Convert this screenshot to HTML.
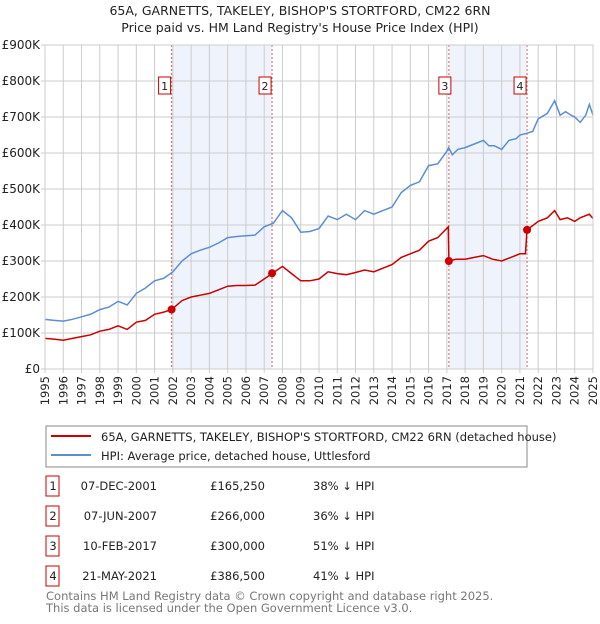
<!DOCTYPE html>
<html><head><meta charset="utf-8"><style>
body{margin:0;background:#fff;font-family:"DejaVu Sans","Liberation Sans",sans-serif;}
svg text{font-family:"DejaVu Sans","Liberation Sans",sans-serif;}
</style></head><body>
<svg id="c" width="600" height="620" xmlns="http://www.w3.org/2000/svg">
<text x="300" y="15" text-anchor="middle" font-size="12.5" fill="#222">65A, GARNETTS, TAKELEY, BISHOP'S STORTFORD, CM22 6RN</text>
<text x="300" y="32" text-anchor="middle" font-size="12.5" fill="#222">Price paid vs. HM Land Registry's House Price Index (HPI)</text>
<g id="plot"></g>
<g>
<rect x="46" y="426" width="481" height="41" fill="#fff" stroke="#888"/>
<line x1="51" y1="436" x2="91" y2="436" stroke="#cc0000" stroke-width="2"/>
<text x="101" y="441" font-size="11.5" fill="#222">65A, GARNETTS, TAKELEY, BISHOP'S STORTFORD, CM22 6RN (detached house)</text>
<line x1="51" y1="455" x2="91" y2="455" stroke="#5b8fd4" stroke-width="2"/>
<text x="101" y="460" font-size="11.5" fill="#222">HPI: Average price, detached house, Uttlesford</text>
</g>
<g id="table" font-size="11.5" fill="#222"></g>
<text x="46" y="600" font-size="11.5" fill="#777">Contains HM Land Registry data © Crown copyright and database right 2025.</text>
<text x="46" y="612" font-size="11.5" fill="#777">This data is licensed under the Open Government Licence v3.0.</text>
</svg>
<script>
const yTicks=[0,100000,200000,300000,400000,500000,600000,700000,800000,900000];
const yTickLabels=["£0","£100K","£200K","£300K","£400K","£500K","£600K","£700K","£800K","£900K"];
const years=[1995,1996,1997,1998,1999,2000,2001,2002,2003,2004,2005,2006,2007,2008,2009,2010,2011,2012,2013,2014,2015,2016,2017,2018,2019,2020,2021,2022,2023,2024,2025];
const hpiT=[1995,1995.5,1996,1996.5,1997,1997.5,1998,1998.5,1999,1999.5,2000,2000.5,2001,2001.5,2002,2002.5,2003,2003.5,2004,2004.5,2005,2005.5,2006,2006.5,2007,2007.5,2008,2008.5,2009,2009.5,2010,2010.5,2011,2011.5,2012,2012.5,2013,2013.5,2014,2014.5,2015,2015.5,2016,2016.5,2017,2017.1,2017.3,2017.6,2018,2018.5,2019,2019.3,2019.6,2020,2020.4,2020.8,2021,2021.4,2021.7,2022,2022.5,2022.9,2023.2,2023.5,2023.8,2024,2024.3,2024.6,2024.8,2025];
const hpiV=[138,135,133,138,145,152,165,172,188,178,210,225,245,252,270,300,320,330,338,350,365,368,370,372,395,405,440,420,380,382,390,425,415,430,415,440,430,440,450,490,510,520,565,570,605,615,595,610,615,625,635,620,620,610,635,640,650,655,660,695,710,745,705,715,705,700,685,705,735,705];
const redT=[1995,1995.5,1996,1996.5,1997,1997.5,1998,1998.5,1999,1999.5,2000,2000.5,2001,2001.5,2001.93,2002.5,2003,2003.5,2004,2004.5,2005,2005.5,2006,2006.5,2007,2007.45,2008,2008.5,2009,2009.5,2010,2010.5,2011,2011.5,2012,2012.5,2013,2013.5,2014,2014.5,2015,2015.5,2016,2016.5,2017.08,2017.11,2017.5,2018,2018.5,2019,2019.5,2020,2020.5,2021,2021.3,2021.39,2022,2022.5,2022.9,2023.2,2023.6,2024,2024.3,2024.8,2025];
const redV=[85,83,80,85,90,95,105,110,120,110,130,135,152,158,165,190,200,205,210,220,230,232,232,233,250,266,285,265,245,245,250,270,265,262,268,275,270,280,290,310,320,330,355,365,395,300,305,305,310,315,305,300,310,320,320,386.5,410,420,440,415,420,410,420,430,418];
const saleT=[2001.93,2007.43,2017.11,2021.39];
const saleV=[165250,266000,300000,386500];
const saleLabels=["1","2","3","4"];
const saleDates=["07-DEC-2001","07-JUN-2007","10-FEB-2017","21-MAY-2021"];
const salePrices=["£165,250","£266,000","£300,000","£386,500"];
const salePct=["38% ↓ HPI","36% ↓ HPI","51% ↓ HPI","41% ↓ HPI"];
const NS="http://www.w3.org/2000/svg";
const X0=45,X1=593,Y0=369,Y1=45;
const sx=t=>X0+(t-1995)/30*(X1-X0);
const sy=v=>Y0-v/900000*(Y0-Y1);
const plot=document.getElementById('plot');
function mk(tag,attrs,parent){const e=document.createElementNS(NS,tag);for(const k in attrs)e.setAttribute(k,attrs[k]);(parent||plot).appendChild(e);return e;}
// shading
for(let i=0;i<saleT.length;i+=2){
 const r=mk('rect',{x:sx(saleT[i]),y:Y1,width:sx(saleT[i+1])-sx(saleT[i]),height:Y0-Y1,fill:'#eef3fc'});
 
 
}
years.forEach(y=>{
 const l=mk('line',{x1:sx(y),x2:sx(y),y1:Y1,y2:Y0+4,stroke:'#ccc','stroke-width':1});
 
 
 const t=mk('text',{x:0,y:0,'font-size':11.5,fill:'#222','text-anchor':'end',transform:`translate(${sx(y)+4},376) rotate(-90)`});
 t.textContent=y;
 
 
});
yTicks.forEach((v,i)=>{
 const l=mk('line',{x1:X0-4,x2:X1,y1:sy(v),y2:sy(v),stroke:'#ccc','stroke-width':1});
 
 
 const t=mk('text',{x:X0-5,y:sy(v)+4,'font-size':12,fill:'#222','text-anchor':'end'});
 t.textContent=yTickLabels[i];
 
 
});
saleT.forEach((t,i)=>{
 const l=mk('line',{x1:sx(t),x2:sx(t),y1:Y1,y2:Y0,stroke:'#e06060','stroke-dasharray':'2,2','stroke-width':1});
 
 
 const bx=(i==2)?sx(t)-10:sx(t)-13;
 const r=mk('rect',{x:bx,y:77,width:12,height:17,fill:'#fff',stroke:'#cc0000'});
 
 
 const tx=mk('text',{x:bx+6,y:90,'font-size':11,fill:'#222','text-anchor':'middle'});
 tx.textContent=saleLabels[i];
 
 
});
const hp=mk('polyline',{points:hpiT.map((t,i)=>sx(t)+','+sy(hpiV[i]*1000)).join(' '),fill:'none',stroke:'#5b8fd4','stroke-width':1.5});


const rp=mk('polyline',{points:redT.map((t,i)=>sx(t)+','+sy(redV[i]*1000)).join(' '),fill:'none',stroke:'#cc0000','stroke-width':1.5});


saleT.forEach((t,i)=>{
 const c=mk('circle',{cx:sx(t),cy:sy(saleV[i]),r:4,fill:'#cc0000'});
 
 
});
const axis=mk('rect',{x:X0,y:Y1,width:X1-X0,height:Y0-Y1,fill:'none',stroke:'#ccc'});


const tb=document.getElementById('table');
saleT.forEach((t,i)=>{
 const y=476+i*30;
 const r=mk('rect',{x:46,y:y,width:13,height:20,fill:'#fff',stroke:'#cc0000'},tb);
 
 
 const cells=[[53,saleLabels[i],'middle'],[157,saleDates[i],'end'],[265,salePrices[i],'end'],[313,salePct[i],'start']];
 cells.forEach(c=>{
  const e=mk('text',{x:c[0],y:y+14,'text-anchor':c[2]},tb);
  e.textContent=c[1];
  
  
 });
});
</script>
</body></html>
